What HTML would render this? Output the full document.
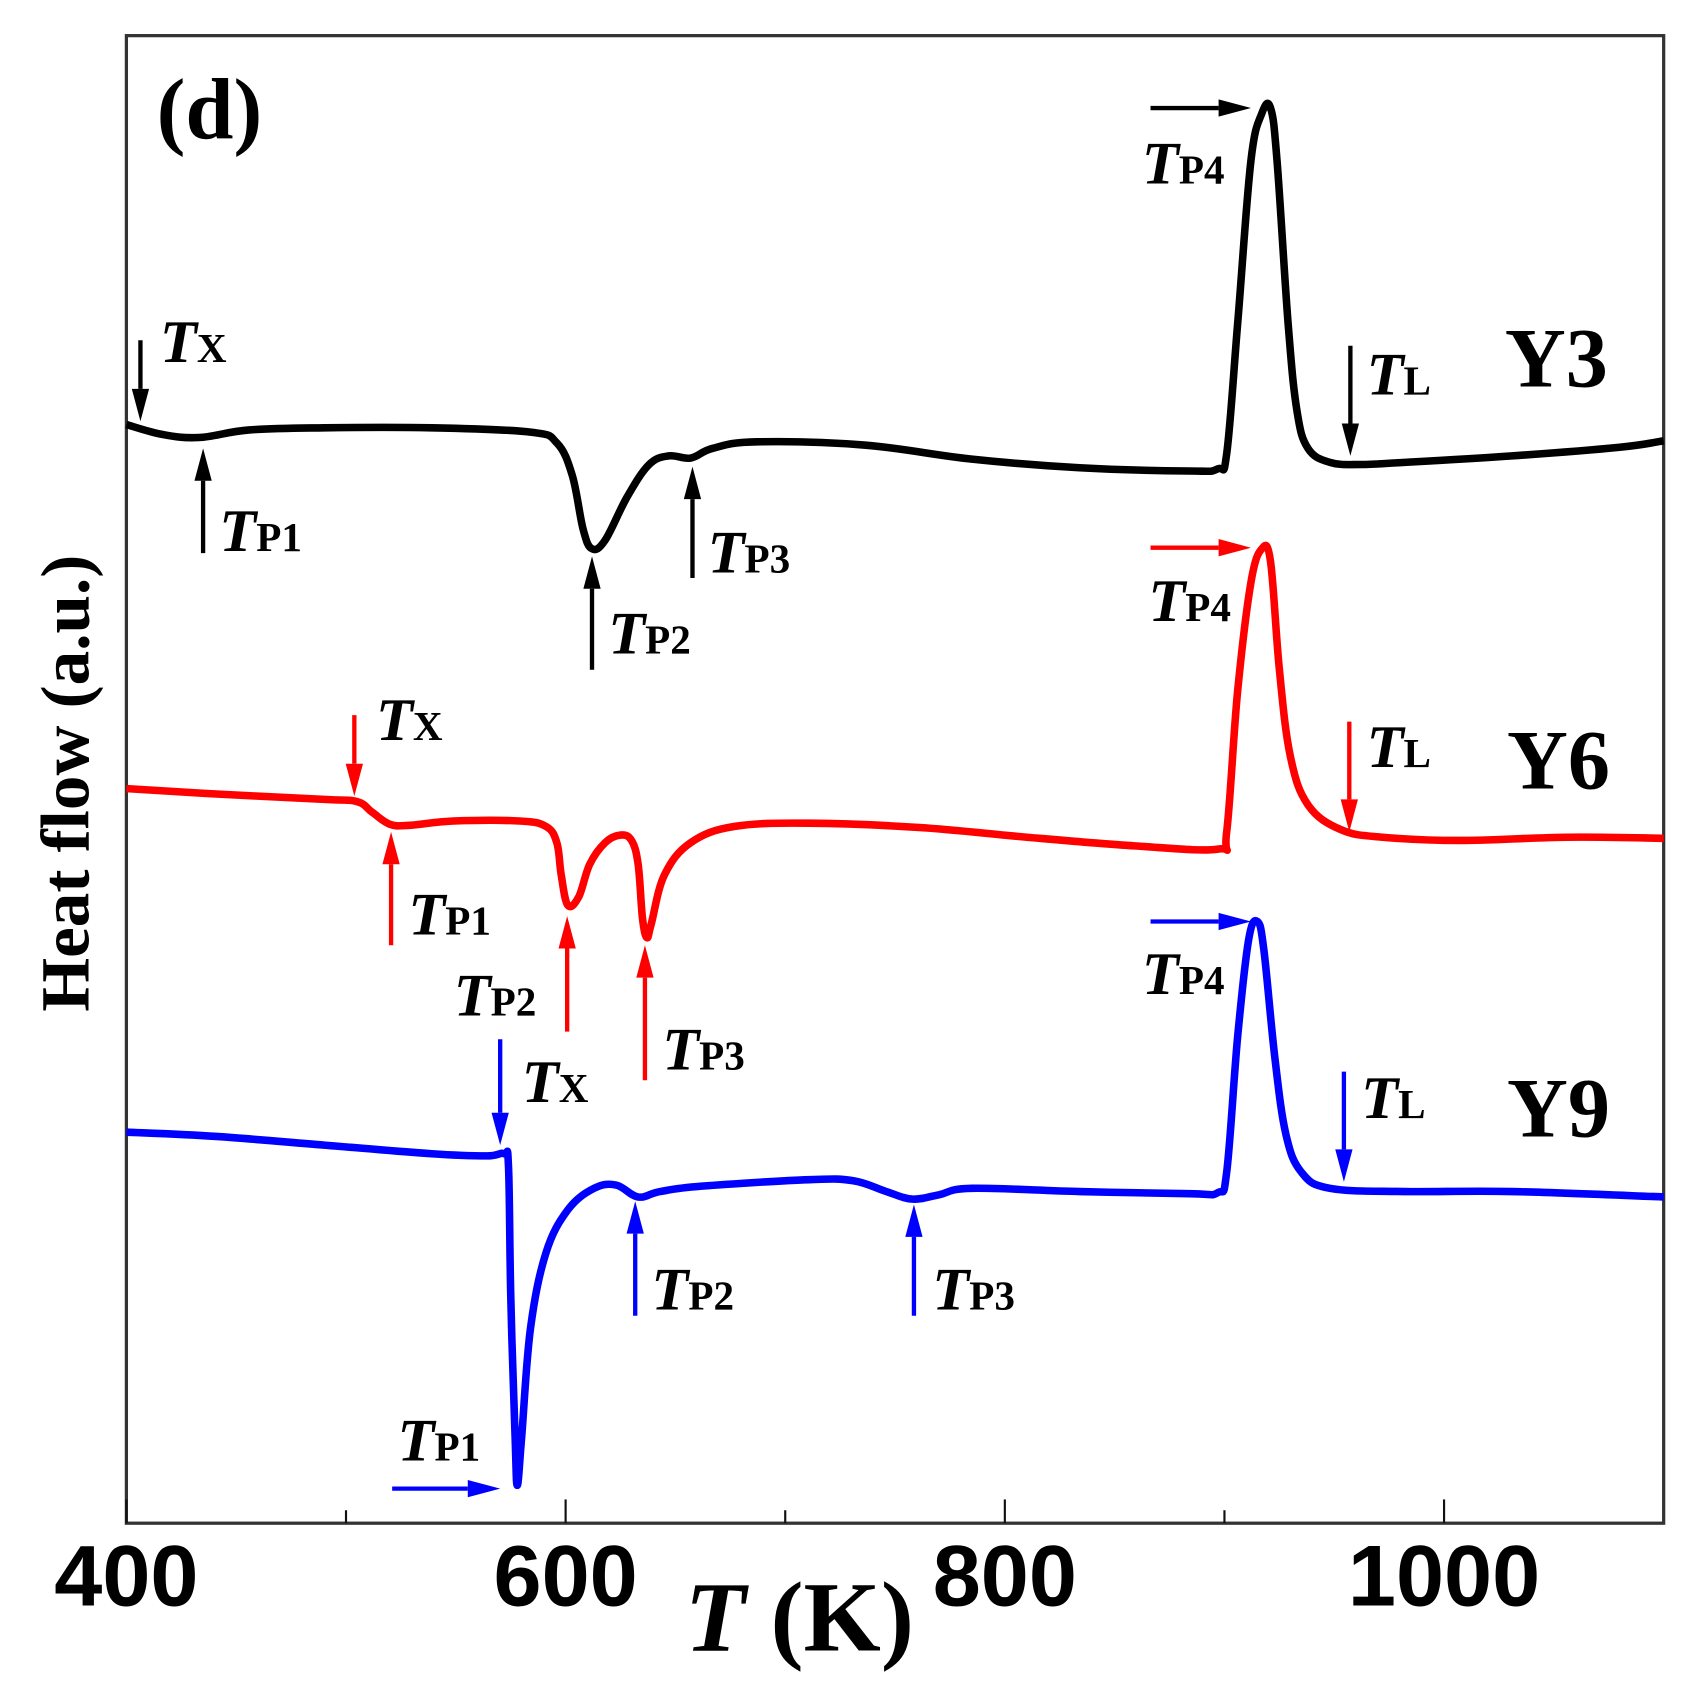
<!DOCTYPE html>
<html><head><meta charset="utf-8"><style>
html,body{margin:0;padding:0;background:#fff;}
svg{display:block;}
.lab{font-family:"Liberation Serif",serif;font-weight:bold;}
.tk{font-family:"Liberation Sans",sans-serif;font-weight:bold;font-size:80px;}
</style></head><body>
<svg id="chart" width="1695" height="1682" viewBox="0 0 1569 1557" preserveAspectRatio="none" xmlns="http://www.w3.org/2000/svg">
<rect x="0" y="0" width="1569" height="1557" fill="#fff"/>
<g id="axes"></g>
<g id="curves"></g>
<g id="ann"></g>
<text class="lab" x="145" y="128" font-size="80">(d)</text>
<text class="lab" x="740" y="1528" font-size="92" text-anchor="middle"><tspan font-style="italic">T</tspan> (K)</text>
<text class="lab" transform="translate(82,725) rotate(-90)" font-size="64" text-anchor="middle">Heat flow (a.u.)</text>
</svg>
<script>
const xTicks = [400, 600, 800, 1000];
const xMinor = [500, 700, 900];
const tY3 = [400,416,433,456,490,539,584,596,603,608,612,618,628,638,647,657,667,687,736,785,834,884,897,901,906,912,917,921,924,929,933,938,948,962,982,1031,1080,1100];
const hY3 = [1009,1000,997,1004,1006,1006,1002,992,962,912,894,902,942,972,980,978,987,993,990,977,969,966,968,982,1102,1252,1297,1302,1252,1102,1022,987,974,972,974,980,988,994];
const tY6 = [400,441,490,505,512,520,529,549,579,591,596,598,601,606,611,618,625,630,633,635,637,639,645,657,677,711,761,810,859,897,901,906,912,917,921,925,930,938,953,972,1007,1056,1100];
const hY6 = [672,667,662,660,650,639,638,642,642,637,622,592,564,572,602,622,629,624,602,552,534,547,592,622,637,640,636,627,619,616,632,762,862,894,882,782,702,657,634,627,624,627,626];
const tY9 = [400,441,490,539,564,572,574,575,577,578,580,584,591,601,613,623,633,643,662,711,731,746,758,770,785,834,884,897,901,906,911,915,918,923,928,935,948,982,1031,1100];
const hY9 = [354,350,342,334,332,334,322,202,72,27,72,172,242,282,302,305,294,299,304,310,309,299,292,296,302,299,297,298,317,442,532,549,522,422,352,317,302,299,299,294];

const L=117,R=1540,T0=33,B=1410;
const xs = t => L + (t-400)*(R-L)/700;
const ys = v => (B-8) - v;
const NS="http://www.w3.org/2000/svg";
function mk(tag, attrs, parent){const e=document.createElementNS(NS,tag);for(const k in attrs)e.setAttribute(k,attrs[k]);parent.appendChild(e);return e;}
const axes=document.getElementById('axes');
const frame=mk('rect',{x:L,y:T0,width:R-L,height:B-T0,fill:'none',stroke:'#333',"stroke-width":3},axes);


xTicks.forEach(t=>{
  const l=mk('line',{x1:xs(t),x2:xs(t),y1:B,y2:B-22,stroke:'#111',"stroke-width":2},axes);
  
  
  const tx=mk('text',{x:xs(t),y:1486,"text-anchor":"middle",class:'tk'},axes);
  tx.textContent=t;
  
  
});
xMinor.forEach(t=>{
  const l=mk('line',{x1:xs(t),x2:xs(t),y1:B,y2:B-12,stroke:'#111',"stroke-width":2},axes);
  
  
});
function path(ts,hs){
  const p=ts.map((t,i)=>[xs(t),ys(hs[i])]);
  let d='M'+p[0][0].toFixed(1)+','+p[0][1].toFixed(1);
  for(let i=0;i<p.length-1;i++){
    const p0=p[Math.max(0,i-1)],p1=p[i],p2=p[i+1],p3=p[Math.min(p.length-1,i+2)];
    const k=0.18;
    const c1=[p1[0]+(p2[0]-p0[0])*k,p1[1]+(p2[1]-p0[1])*k];
    const c2=[p2[0]-(p3[0]-p1[0])*k,p2[1]-(p3[1]-p1[1])*k];
    d+=' C'+c1.map(v=>v.toFixed(1)).join(',')+' '+c2.map(v=>v.toFixed(1)).join(',')+' '+p2[0].toFixed(1)+','+p2[1].toFixed(1);
  }
  return d;
}
const cg=document.getElementById('curves');
const c3=mk('path',{d:path(tY3,hY3),fill:'none',stroke:'#000',"stroke-width":7,"stroke-linejoin":"round"},cg);


const c6=mk('path',{d:path(tY6,hY6),fill:'none',stroke:'#ff0000',"stroke-width":7,"stroke-linejoin":"round"},cg);


const c9=mk('path',{d:path(tY9,hY9),fill:'none',stroke:'#0000ff',"stroke-width":7,"stroke-linejoin":"round"},cg);



const ann=document.getElementById('ann');
function arrow(x1,y1,x2,y2,col,name){
  const g=mk('g',{},ann);
  
  
  const dx=x2-x1,dy=y2-y1,len=Math.hypot(dx,dy),ux=dx/len,uy=dy/len;
  const hl=30,hw=8;
  const bx=x2-ux*hl,by=y2-uy*hl;
  mk('line',{x1:x1,y1:y1,x2:bx,y2:by,stroke:col,"stroke-width":4},g);
  mk('polygon',{points:`${x2},${y2} ${bx-uy*hw},${by+ux*hw} ${bx+uy*hw},${by-ux*hw}`,fill:col},g);
}
function label(x,y,sub,name,size){
  size=size||56;
  const t=mk('text',{x:x,y:y,class:'lab',"font-size":size},ann);
  
  
  const a=mk('tspan',{"font-style":"italic"},t);a.textContent='T';
  const b=mk('tspan',{"font-size":size*0.68},t);b.textContent=sub;
}
function big(x,y,s,name){
  const t=mk('text',{x:x,y:y,class:'lab',"font-size":78},ann);
  t.textContent=s;
  
  
}
// Y3
arrow(130,315,130,390,'#000','y3-tx-arrow'); label(148,335,'X','y3-tx-label');
arrow(188,512,188,415,'#000','y3-tp1-arrow'); label(203,510,'P1','y3-tp1-label');
arrow(548,620,548,515,'#000','y3-tp2-arrow'); label(563,605,'P2','y3-tp2-label');
arrow(641,535,641,432,'#000','y3-tp3-arrow'); label(655,530,'P3','y3-tp3-label');
arrow(1065,100,1158,100,'#000','y3-tp4-arrow'); label(1057,170,'P4','y3-tp4-label');
arrow(1250,320,1250,422,'#000','y3-tl-arrow'); label(1265,365,'L','y3-tl-label');
big(1393,358,'Y3','y3-label');
// Y6
arrow(328,662,328,737,'#f00','y6-tx-arrow'); label(348,685,'X','y6-tx-label');
arrow(362,875,362,770,'#f00','y6-tp1-arrow'); label(378,865,'P1','y6-tp1-label');
arrow(525,955,525,848,'#f00','y6-tp2-arrow'); label(420,940,'P2','y6-tp2-label');
arrow(597,1000,597,875,'#f00','y6-tp3-arrow'); label(613,990,'P3','y6-tp3-label');
arrow(1065,507,1158,507,'#f00','y6-tp4-arrow'); label(1063,575,'P4','y6-tp4-label');
arrow(1249,668,1249,770,'#f00','y6-tl-arrow'); label(1265,710,'L','y6-tl-label');
big(1395,730,'Y6','y6-label');
// Y9
arrow(463,962,463,1060,'#00f','y9-tx-arrow'); label(483,1020,'X','y9-tx-label');
arrow(363,1378,463,1378,'#00f','y9-tp1-arrow'); label(368,1352,'P1','y9-tp1-label');
arrow(588,1218,588,1112,'#00f','y9-tp2-arrow'); label(603,1212,'P2','y9-tp2-label');
arrow(846,1218,846,1115,'#00f','y9-tp3-arrow'); label(863,1212,'P3','y9-tp3-label');
arrow(1065,853,1158,853,'#00f','y9-tp4-arrow'); label(1057,920,'P4','y9-tp4-label');
arrow(1244,992,1244,1094,'#00f','y9-tl-arrow'); label(1260,1035,'L','y9-tl-label');
big(1395,1052,'Y9','y9-label');
</script>
</body></html>
